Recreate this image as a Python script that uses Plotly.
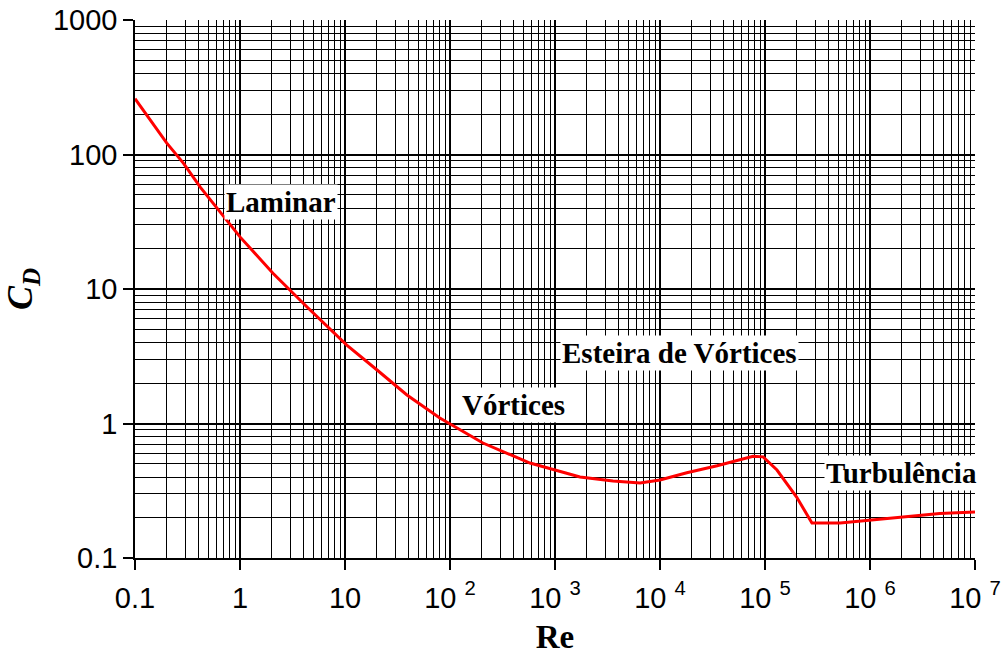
import math
import plotly.graph_objects as go

# Data (Re vs drag coefficient C_D)
re_vals = [0.1, 0.2, 0.29, 0.42, 1.0, 2.06, 4.35, 10.4, 20.2, 38.9, 80, 206, 578,
           1730, 3570, 6460, 1e4, 1.8e4, 3.5e4, 4.95e4, 7.7e4, 9.6e4, 1.3e5, 2.0e5,
           2.8e5, 5.2e5, 1.07e6, 2.25e6, 4.6e6, 1e7]
cd_vals = [260, 122, 86, 57, 24.4, 13.1, 7.35, 3.83, 2.50, 1.63, 1.10, 0.716, 0.508,
           0.40, 0.373, 0.361, 0.38, 0.43, 0.485, 0.52, 0.57, 0.565, 0.451, 0.284,
           0.182, 0.182, 0.192, 0.202, 0.214, 0.22]

x_tickvals = [0.1, 1, 10, 100, 1e3, 1e4, 1e5, 1e6, 1e7]
x_ticktext = ["0.1", "1", "10", "10 <sup>2</sup>", "10 <sup>3</sup>", "10 <sup>4</sup>",
              "10 <sup>5</sup>", "10 <sup>6</sup>", "10 <sup>7</sup>"]
y_tickvals = [0.1, 1, 10, 100, 1000]
y_ticktext = ["0.1", "1", "10", "100", "1000"]

labels = ["Laminar", "Vórtices", "Esteira de Vórtices", "Turbulência"]
label_re = [2.45, 400, 1.55e4, 2.0e6]
label_cd = [44, 1.37, 3.34, 0.43]

fig = go.Figure()
fig.add_trace(go.Scatter(x=re_vals, y=cd_vals, mode="lines",
                         line=dict(color="red", width=3),
                         showlegend=False))

for t, xv, yv in zip(labels, label_re, label_cd):
    fig.add_annotation(x=math.log10(xv), y=math.log10(yv),
                       text="<b>" + t + "</b>", showarrow=False,
                       font=dict(family="Liberation Serif", size=29, color="black"),
                       bgcolor="white", borderpad=1)

axis_common = dict(type="log", showline=True, linecolor="black", linewidth=1.5,
                   ticks="outside", ticklen=10, tickcolor="black", tickwidth=1.5,
                   showgrid=True, gridcolor="black", gridwidth=1.5,
                   tickfont=dict(family="Liberation Sans", size=29, color="black"),
                   zeroline=False, mirror=False, automargin=False,
                   minor=dict(dtick="D1", showgrid=True, gridcolor="black",
                              gridwidth=1.3, ticks=""))

fig.update_xaxes(range=[-1, 7], tickvals=x_tickvals, ticktext=x_ticktext,
                 ticklabelstandoff=3,
                 title=dict(text="<b>Re</b>", standoff=18,
                            font=dict(family="Liberation Serif", size=33, color="black")),
                 **axis_common)
fig.update_yaxes(range=[-1, 3], tickvals=y_tickvals, ticktext=y_ticktext,
                 title=dict(text="<b><i>C<sub>D</sub></i></b>", standoff=10,
                            font=dict(family="Liberation Serif", size=36, color="black")),
                 **axis_common)

fig.update_layout(width=1006, height=655, plot_bgcolor="white", paper_bgcolor="white",
                  margin=dict(l=135, r=31, t=20, b=97))

# remove the default 8px page margin so the figure fills the window exactly
fig.write_html("out.html", config={"displayModeBar": False},
               post_script="document.body.style.margin='0';document.body.style.overflow='hidden';")
